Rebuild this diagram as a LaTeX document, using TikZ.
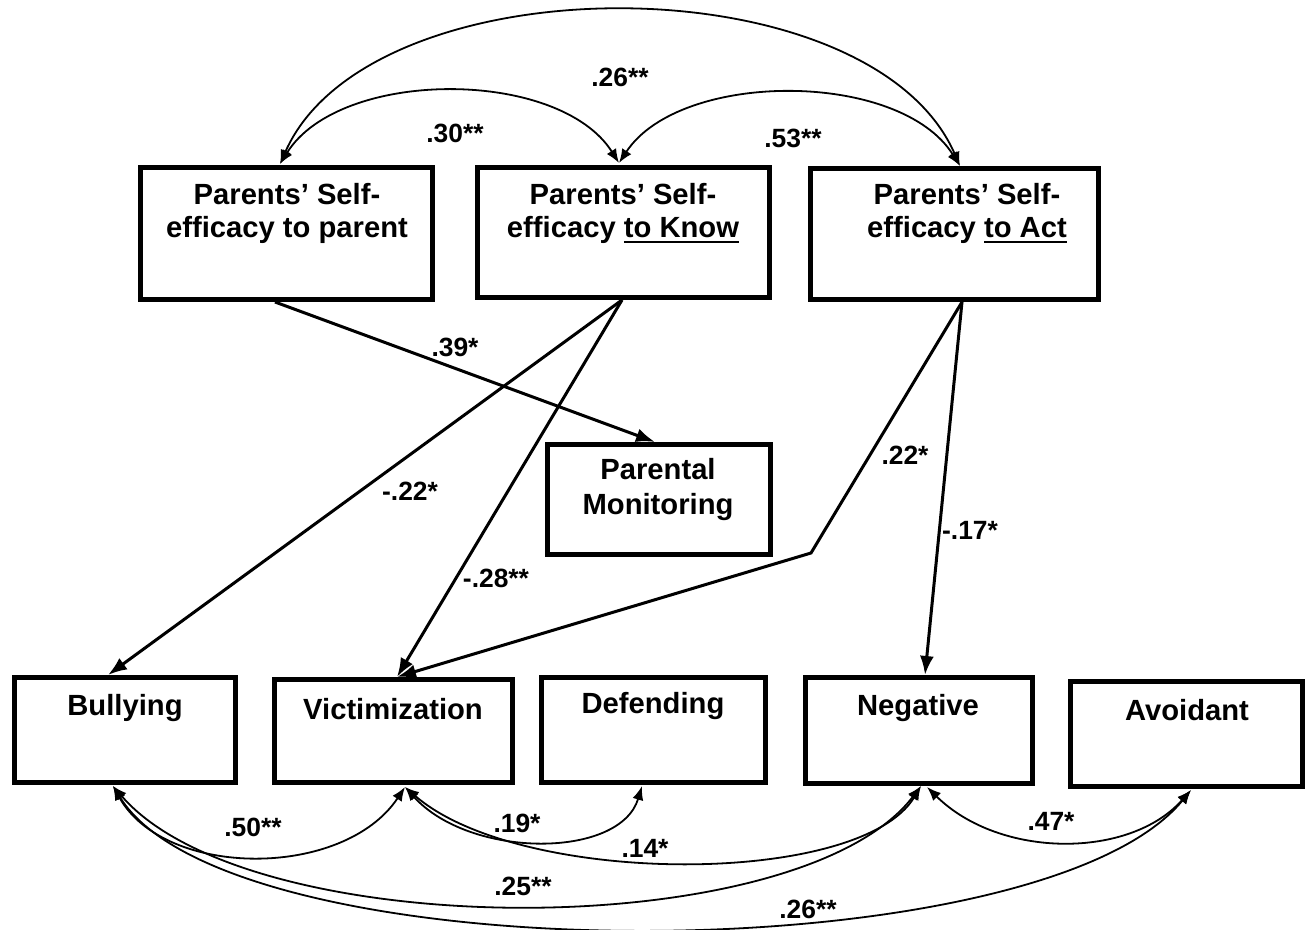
\documentclass[tikz,border=0pt]{standalone}
\usepackage{fontspec}
\setmainfont{Liberation Sans}
\usetikzlibrary{arrows.meta,calc}
\newsavebox\ulbox
\newcommand\myul[1]{\sbox\ulbox{#1}\rlap{\rule[-2.6pt]{\wd\ulbox}{1.3pt}}\usebox\ulbox}
\begin{document}
\begin{tikzpicture}[x=0.5pt,y=-0.5pt,
  box/.style={draw, line width=2.5pt, rectangle, inner sep=0pt},
  btxt/.style={font=\fontsize{14.6}{16.5}\selectfont\bfseries, anchor=base, inner sep=0pt},
  lab/.style={font=\fontsize{13.2}{15}\selectfont\bfseries, inner sep=0pt},
  reg/.style={line width=1.5pt, -{Latex[length=9.5pt,width=7pt]}},
  cor/.style={line width=0.9pt, {Latex[length=7pt,width=5.5pt]}-{Latex[length=7pt,width=5.5pt]}}
]
\useasboundingbox (0,0) rectangle (1307,930);

% top boxes
\node[box, minimum width=146pt, minimum height=66pt] (sp) at (286.5,233.5) {};
\node[box, minimum width=146pt, minimum height=65pt] (sk) at (623.5,232.5) {};
\node[box, minimum width=144pt, minimum height=65.5pt] (sa) at (954,234) {};
\node[btxt] (sp1) at (287,205) {Parents’ Self-};
\node[btxt] (sp2) at (287,238) {efficacy to parent};
\node[btxt] (sk1) at (623,205) {Parents’ Self-};
\node[btxt] (sk2) at (623,238) {efficacy \myul{to Know}};
\node[btxt] (sa1) at (967,205) {Parents’ Self-};
\node[btxt] (sa2) at (967,238) {efficacy \myul{to Act}};

% parental monitoring
\node[box, minimum width=111.5pt, minimum height=55pt] (pm) at (659,499.5) {};
\node[btxt] (pm1) at (658,480) {Parental};
\node[btxt] (pm2) at (658,515) {Monitoring};

% bottom boxes
\node[box, minimum width=110.5pt, minimum height=52.5pt] (bu) at (125,730) {};
\node[box, minimum width=119pt, minimum height=51.5pt] (vi) at (393.5,731) {};
\node[box, minimum width=112pt, minimum height=52.5pt] (de) at (653.5,730) {};
\node[box, minimum width=113.5pt, minimum height=53pt] (ne) at (919,730.5) {};
\node[box, minimum width=116pt, minimum height=52.5pt] (av) at (1186.5,734) {};
\node[btxt] (bu1) at (125,715) {Bullying};
\node[btxt] (vi1) at (393,719) {Victimization};
\node[btxt] (de1) at (653,713) {Defending};
\node[btxt] (ne1) at (918,715) {Negative};
\node[btxt] (av1) at (1187,720) {Avoidant};

% attachment points
\coordinate (spT) at (280,164);
\coordinate (skT) at (619,163);
\coordinate (saT) at (960,166);
\coordinate (spB) at (275,302);
\coordinate (skB) at (622,300);
\coordinate (saB) at (962,302);
\coordinate (pmT) at (655,442);
\coordinate (buT) at (108,675);
\coordinate (viT) at (397,677);
\coordinate (neT) at (925,675);
\coordinate (bend) at (811,553);
\coordinate (buB) at (113,786);
\coordinate (viB) at (405,787);
\coordinate (deB) at (642,786);
\coordinate (neB) at (921,786);
\coordinate (neB2) at (927,787);
\coordinate (avB) at (1191,790);

% regression paths
\draw[reg] (spB) -- (pmT);
\draw[reg] (skB) -- (buT);
\draw[reg] (skB) -- (viT);
\draw[reg] (saB) -- (bend) -- (viT);
\draw[reg] (saB) -- (neT);

% correlations top
\draw[cor] (spT) .. controls (370,-40) and (870,-40) .. (saT);
\draw[cor] (spT) .. controls (340,68) and (559,68) .. (skT);
\draw[cor] (skT) .. controls (680,70) and (900,70) .. (saT);

% correlations bottom
\draw[cor] (buB) .. controls (165,879) and (344,879) .. (viB);
\draw[cor] (viB) .. controls (470,859) and (620,859) .. (deB);
\draw[cor] (viB) .. controls (520,887) and (860,887) .. (neB);
\draw[cor] (buB) .. controls (250,945) and (800,945) .. (neB);
\draw[cor] (buB) .. controls (230,975) and (1040,975) .. (avB);
\draw[cor] (neB2) .. controls (1000,859) and (1130,859) .. (avB);

% labels
\node[lab] (l1) at (620,77) {.26**};
\node[lab] (l2) at (455,133) {.30**};
\node[lab] (l3) at (793,138) {.53**};
\node[lab] (l4) at (455,347) {.39*};
\node[lab] (l5) at (410,491) {-.22*};
\node[lab] (l6) at (496,578) {-.28**};
\node[lab] (l7) at (905,455) {.22*};
\node[lab] (l8) at (970,530) {-.17*};
\node[lab] (l9) at (253,827) {.50**};
\node[lab] (l10) at (517,823) {.19*};
\node[lab] (l11) at (645,848) {.14*};
\node[lab] (l12) at (523,886) {.25**};
\node[lab] (l13) at (808,909) {.26**};
\node[lab] (l14) at (1051,821) {.47*};
\end{tikzpicture}
\end{document}
